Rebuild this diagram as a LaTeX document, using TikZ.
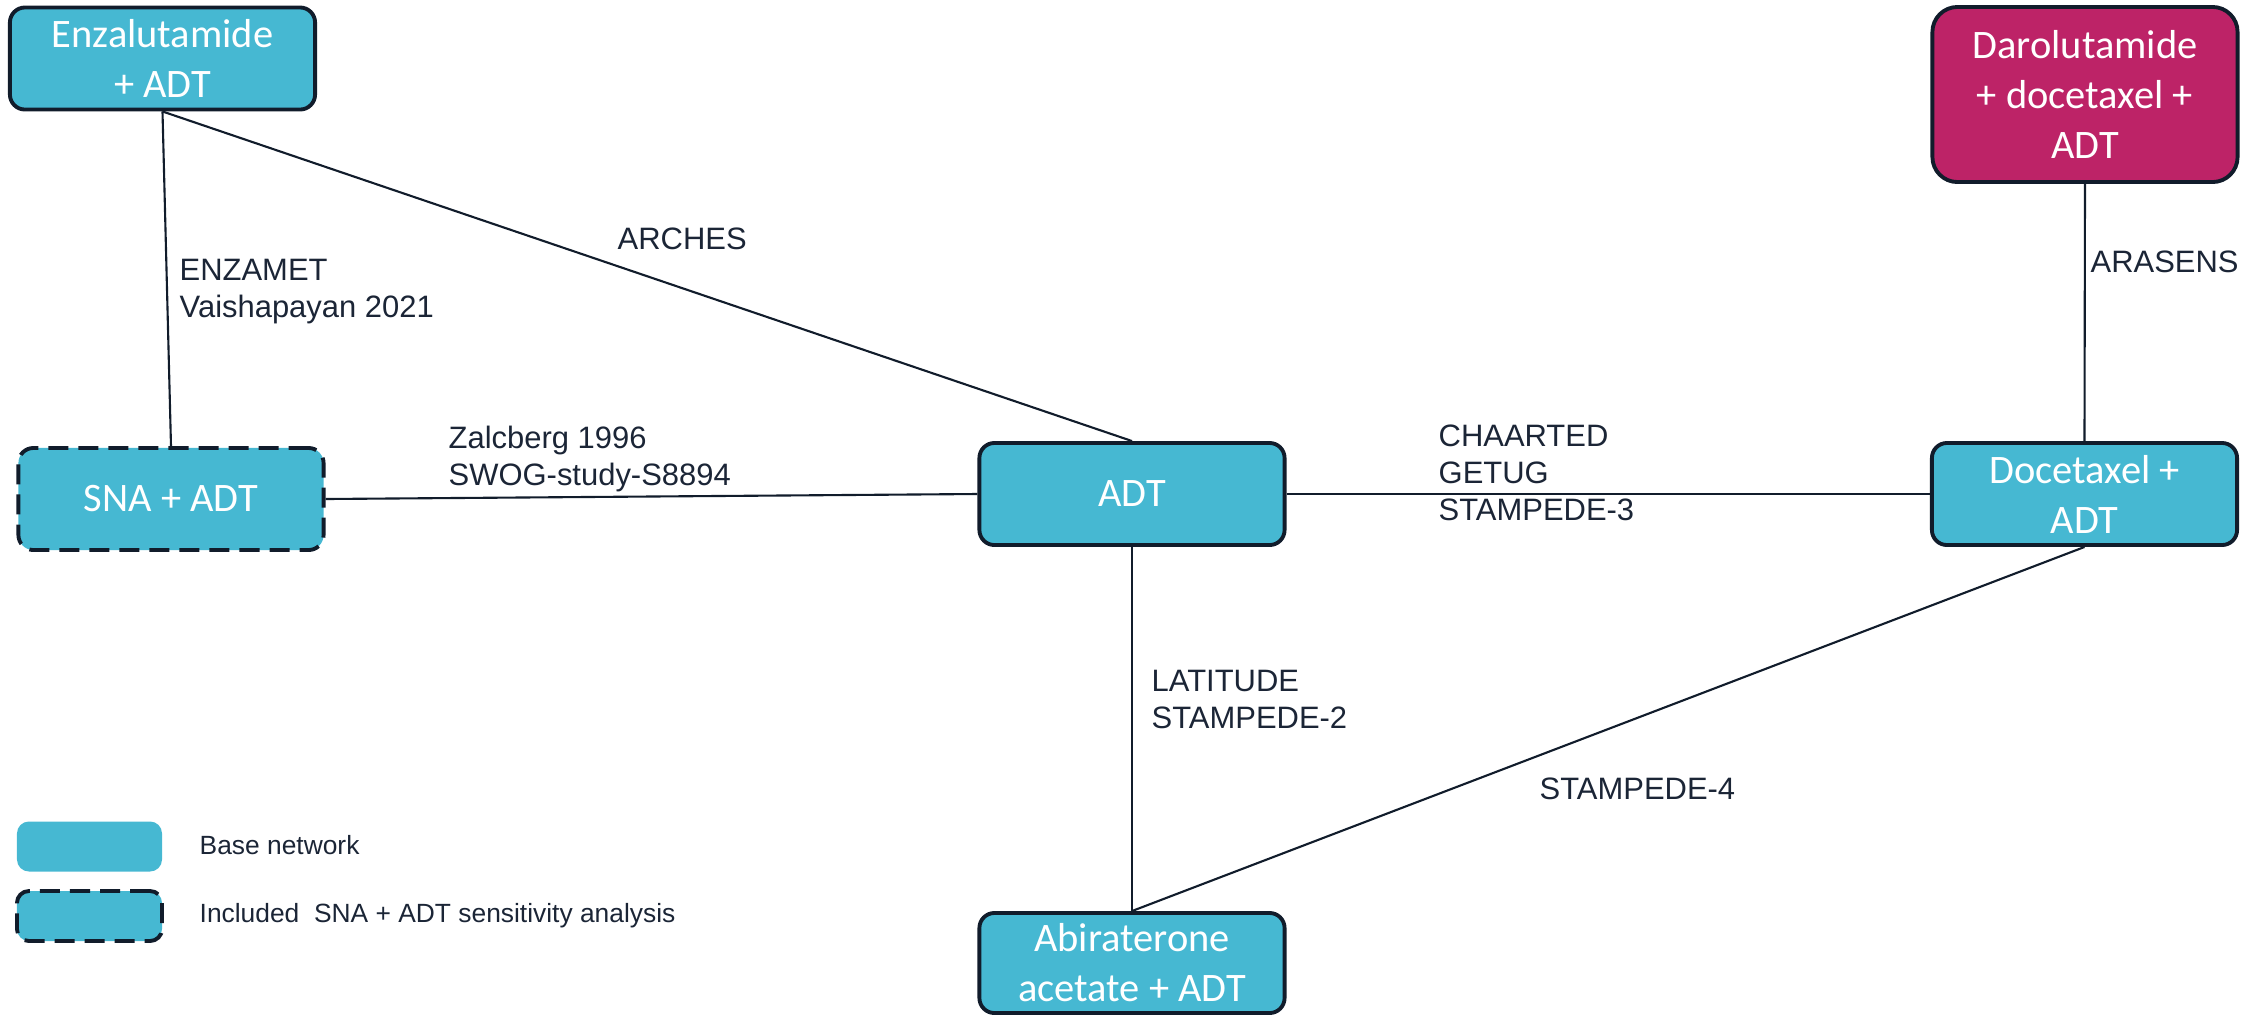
\documentclass[tikz,border=0pt]{standalone}
\usepackage{fontspec}
\newfontfamily\boxfont{Carlito}
\newfontfamily\labfont{Liberation Sans}
\definecolor{tealfill}{HTML}{46B8D2}
\definecolor{magfill}{HTML}{BD2367}
\definecolor{navy}{HTML}{111C2B}
\definecolor{labtext}{HTML}{1B2536}
\tikzset{
  treat/.style={draw=navy, line width=1.1pt, fill=tealfill, rounded corners=0.15cm,
    minimum width=3.05cm, minimum height=1.02cm, align=center, text=white,
    inner sep=0pt, font=\boxfont\fontsize{11.5}{14.2}\selectfont},
  sens/.style={treat, dashed, dash pattern=on 0.2cm off 0.1cm},
  trial/.style={anchor=base west, align=left, inner sep=0pt, text=labtext,
    font=\labfont\fontsize{8.8}{10.4}\selectfont},
  legtext/.style={anchor=base west, inner sep=0pt, text=labtext,
    font=\labfont\fontsize{7.5}{9}\selectfont},
  link/.style={draw=navy, line width=0.6pt},
  legbox/.style={fill=tealfill, rounded corners=0.12cm, minimum width=1.45cm,
    minimum height=0.5cm, inner sep=0pt},
}
\begin{document}
\begin{tikzpicture}[x=0.01cm, y=-0.01cm]
\useasboundingbox (0,0) rectangle (2262,1014);

% treatment nodes
\node[treat] (enz) at (162.5,58.5) {Enzalutamide\\+ ADT};
\node[treat, fill=magfill, minimum height=1.75cm, rounded corners=0.25cm] (daro) at (2085,94.5) {Darolutamide\\+ docetaxel +\\ADT};
\node[sens] (sna) at (171,499) {SNA + ADT};
\node[treat] (adt) at (1132,494) {ADT};
\node[treat] (doc) at (2084.5,494) {Docetaxel +\\ADT};
\node[treat, minimum height=1.0cm] (abi) at (1132,963) {Abiraterone\\acetate + ADT};

% trial connections
\draw[link] (enz.south) -- (sna.north);
\draw[link] (enz.south) -- (adt.north);
\draw[link] (sna.east) -- (adt.west);
\draw[link] (adt.east) -- (doc.west);
\draw[link] (daro.south) -- (doc.north);
\draw[link] (adt.south) -- (abi.north);
\draw[link] (doc.south) -- (abi.north);

% trial labels (anchored at the baseline of their last line)
\node[trial] (lenz) at (179,317) {ENZAMET\\Vaishapayan 2021};
\node[trial] (larch) at (617,249) {ARCHES};
\node[trial] (lzal) at (448,485) {Zalcberg 1996\\SWOG-study-S8894};
\node[trial] (lcha) at (1438,520) {CHAARTED\\GETUG\\STAMPEDE-3};
\node[trial] (lara) at (2090,272) {ARASENS};
\node[trial] (llat) at (1151,728) {LATITUDE\\STAMPEDE-2};
\node[trial] (lst4) at (1539,799) {STAMPEDE-4};

% legend
\node[legbox] (leg1) at (89.5,846.5) {};
\node[legbox, draw=navy, line width=1.1pt, dashed, dash pattern=on 0.2cm off 0.1cm] (leg2) at (89.5,916) {};
\node[legtext] (leg1t) at (199,854) {Base network};
\node[legtext] (leg2t) at (199,922) {Included\ \ SNA + ADT sensitivity analysis};
\end{tikzpicture}
\end{document}
